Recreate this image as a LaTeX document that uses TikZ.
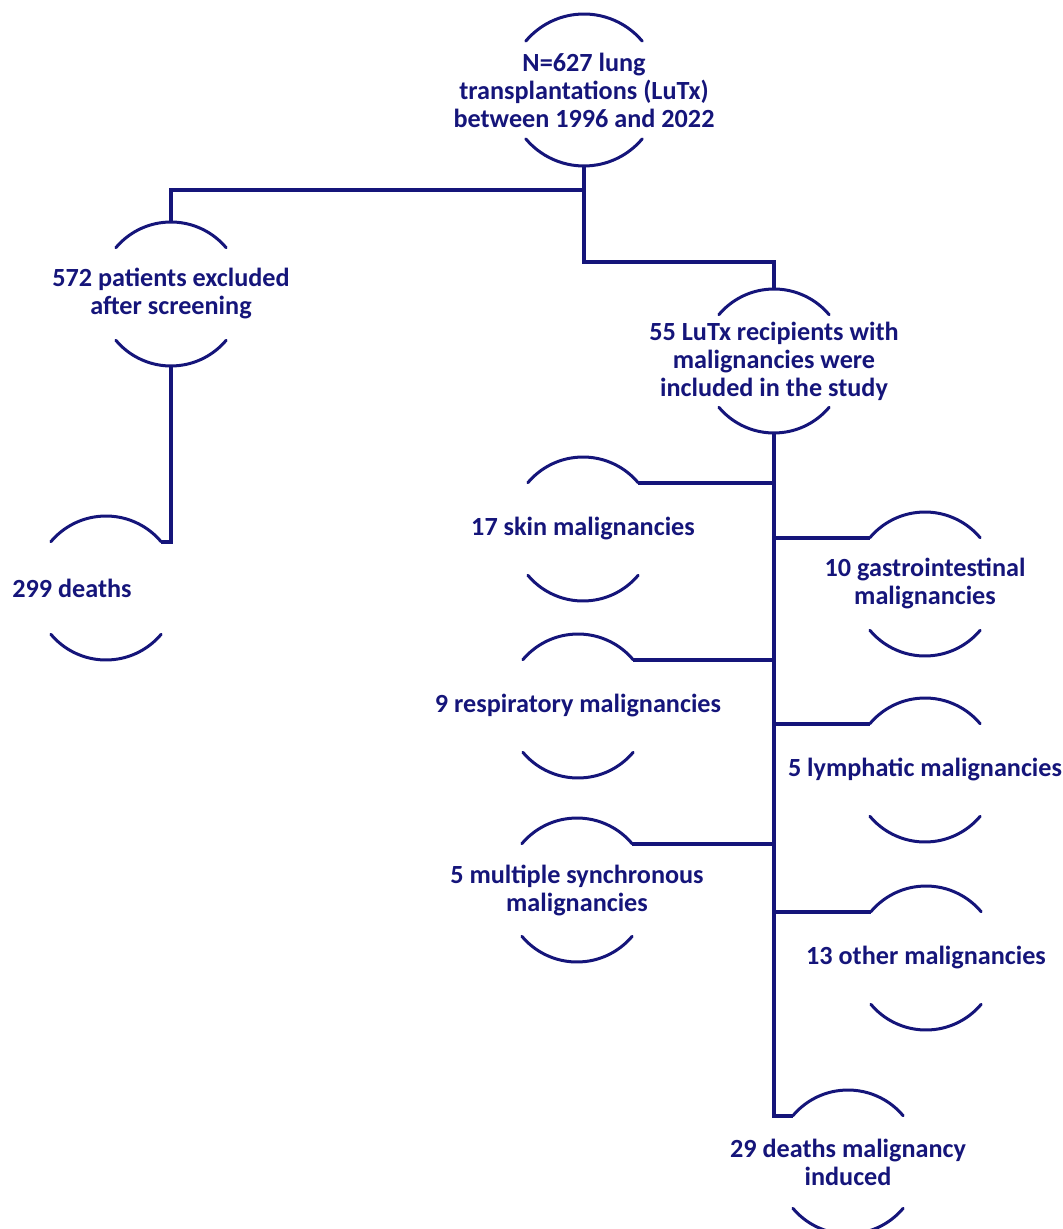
\documentclass[tikz,border=0pt]{standalone}
\usepackage{fontspec}
\setmainfont{Carlito}
\usetikzlibrary{calc}
\definecolor{flowNavy}{HTML}{15157A}

% node text with an open ring (top and bottom arcs) round it
\newcommand\ringnode[4][72]{%
  \node[caption] (#2) at (#3) {#4};
  \draw[ring] (#2.center) ++(40:#1) coordinate (#2-ne)
    arc[start angle=40,end angle=140,radius=#1] coordinate (#2-nw);
  \draw[ring] (#2.center) ++(220:#1) coordinate (#2-sw)
    arc[start angle=220,end angle=320,radius=#1] coordinate (#2-se);
  \path (#2.center) ++(0,#1) coordinate (#2-n);
  \path (#2.center) ++(0,-#1) coordinate (#2-s);
}

\begin{document}
\begin{tikzpicture}[
    x=0.5pt, y=0.5pt,
    caption/.style={
        text=flowNavy,
        font=\bfseries\fontsize{13.1}{14}\selectfont,
        align=center,
        inner sep=0pt
    },
    ring/.style={
        draw=flowNavy,
        line width=1.5pt,
        line cap=round
    },
    link/.style={
        draw=flowNavy,
        line width=1.8pt
    }
]
\useasboundingbox (0,0) rectangle (1063,-1229);

\ringnode[76]{top}{584,-90}{N=627 lung\\transplantations (LuTx)\\between 1996 and 2022}
\ringnode{excl}{171,-294}{572 patients excluded\\after screening}
\ringnode{incl}{774,-361}{55 LuTx recipients with\\malignancies were\\included in the study}
\ringnode{deaths}{106,-588}{299 deaths\hspace*{34pt}}
\ringnode{skin}{583,-529}{17 skin malignancies}
\ringnode{gastro}{925,-584}{10 gastrointestinal\\malignancies}
\ringnode{resp}{578,-706}{9 respiratory malignancies}
\ringnode{lymph}{925,-770}{5 lymphatic malignancies}
\ringnode{multi}{577,-890}{5 multiple synchronous\\malignancies}
\ringnode{other}{926,-958}{13 other malignancies}
\ringnode{final}{848,-1162}{29 deaths malignancy\\induced}

\coordinate (split) at (584,-190);
\coordinate (jog) at (584,-262);

\draw[link] (top-s) -- (split) -| (excl-n);
\draw[link] (split) -- (jog) -| (incl-n);
\draw[link] (excl-s) |- (deaths-ne);
\draw[link] (incl-s) |- (final-nw);
\foreach \b in {skin,resp,multi}
    \draw[link] (\b-ne) -- (\b-ne -| incl-s);
\foreach \b in {gastro,lymph,other}
    \draw[link] (\b-nw) -- (\b-nw -| incl-s);
\end{tikzpicture}
\end{document}
